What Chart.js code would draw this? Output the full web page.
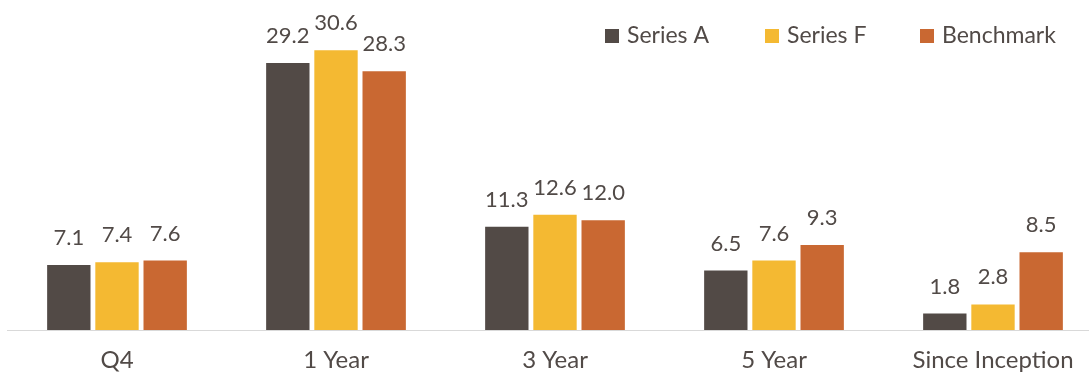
<!DOCTYPE html>
<html>
<head>
<meta charset="utf-8">
<script src="https://cdn.jsdelivr.net/npm/chart.js@4"></script>
<style>
html,body{margin:0;padding:0;background:#fff;overflow:hidden;}
#wrap{width:1103px;height:379px;position:relative;}
</style>
</head>
<body>
<div id="wrap"><canvas id="c"></canvas></div>
<script>
const categories = ['Q4', '1 Year', '3 Year', '5 Year', 'Since Inception'];
const seriesA = [7.1, 29.2, 11.3, 6.5, 1.8];
const seriesF = [7.4, 30.6, 12.6, 7.6, 2.8];
const benchmark = [7.6, 28.3, 12.0, 9.3, 8.5];
const seriesNames = ['Series A', 'Series F', 'Benchmark'];
const colors = ['#524A46', '#F4B932', '#C96832'];
const textColor = '#514A47';
const FONT = 'Lato, "Open Sans", sans-serif';

const valueLabels = {
  id: 'valueLabels',
  afterDatasetsDraw(chart) {
    const ctx = chart.ctx;
    ctx.save();
    ctx.font = '22px ' + FONT;
    ctx.fillStyle = textColor;
    ctx.textAlign = 'center';
    ctx.textBaseline = 'alphabetic';
    chart.data.datasets.forEach((ds, i) => {
      const meta = chart.getDatasetMeta(i);
      meta.data.forEach((el, j) => {
        ctx.fillText(ds.data[j].toFixed(1), el.x, el.y - 20);
      });
    });
    ctx.restore();
  }
};

const customLegend = {
  id: 'customLegend',
  afterDraw(chart) {
    const ctx = chart.ctx;
    const boxX = [605, 765, 920];
    ctx.save();
    ctx.font = '23px ' + FONT;
    ctx.textBaseline = 'middle';
    ctx.textAlign = 'left';
    chart.data.datasets.forEach((ds, i) => {
      ctx.fillStyle = ds.backgroundColor;
      ctx.fillRect(boxX[i], 29, 14, 14);
      ctx.fillStyle = textColor;
      ctx.fillText(ds.label, boxX[i] + 22, 36);
    });
    ctx.restore();
  }
};

new Chart(document.getElementById('c'), {
  type: 'bar',
  data: {
    labels: categories,
    datasets: [
      { label: seriesNames[0], data: seriesA, backgroundColor: colors[0] },
      { label: seriesNames[1], data: seriesF, backgroundColor: colors[1] },
      { label: seriesNames[2], data: benchmark, backgroundColor: colors[2] }
    ]
  },
  options: {
    responsive: true,
    maintainAspectRatio: false,
    animation: false,
    devicePixelRatio: 1,
    datasets: { bar: { categoryPercentage: 0.66, barPercentage: 0.9 } },
    layout: { padding: { left: 7.5, right: 0.5, top: 10, bottom: -11.8 } },
    plugins: { legend: { display: false }, tooltip: { enabled: false } },
    scales: {
      x: {
        grid: { display: false, drawTicks: false },
        border: { display: true, color: '#D9D9D9', width: 1 },
        ticks: { color: textColor, font: { family: FONT, size: 24 }, padding: 16, maxRotation: 0, autoSkip: false }
      },
      y: {
        display: false,
        min: 0,
        max: 35
      }
    }
  },
  plugins: [valueLabels, customLegend]
});
</script>
</body>
</html>
